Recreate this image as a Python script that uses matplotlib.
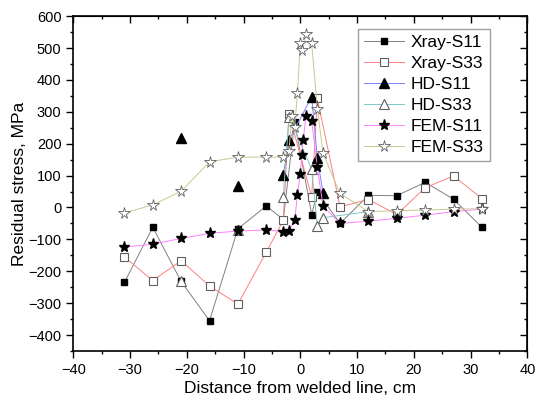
import matplotlib
matplotlib.use("Agg")
import matplotlib.pyplot as plt
import numpy as np
from matplotlib.ticker import MultipleLocator

plt.rcParams['font.family'] = ['Liberation Sans', 'DejaVu Sans']

# ---- data ----
xray_s11_x = [-31, -26, -21, -16, -11, -6, -3, -1, 2, 3, 7, 12, 17, 22, 27, 32]
xray_s11_y = [-235, -62, -232, -355, -67, 5, -38, 268, -22, 49, -50, 38, 37, 79, 26, -62]

xray_s33_x = [-31, -26, -21, -16, -11, -6, -3, -2, 2, 3, 7, 12, 17, 22, 27, 32]
xray_s33_y = [-155, -229, -167, -246, -303, -140, -40, 293, 34, 342, 2, 25, -22, 62, 99, 28]

hd_s11_x = [-21, np.nan, -11, np.nan, -3, -2, 2, 3, 4]
hd_s11_y = [218, np.nan, 67, np.nan, 103, 211, 347, 154, 46]

hd_s33_x = [-21, np.nan, -11, np.nan, -3, -2, 2, 3, 4, 12]
hd_s33_y = [-230, np.nan, -72, np.nan, 34, 285, 120, -58, -32, -13]

fem_s11_x = [-31, -26, -21, -16, -11, -6, -3, -2, -1, -0.5, 0, 0.25, 0.5, 1, 2, 3, 4, 7, 12, 17, 22, 27, 32]
fem_s11_y = [-124, -115, -97, -81, -74, -70, -76, -73, -40, 40, 105, 165, 211, 287, 272, 126, 4, -50, -43, -34, -24, -13, -5]

fem_s33_x = [-31, -26, -21, -16, -11, -6, -3, -2, -1.5, -1, -0.5, 0, 0.25, 1, 2, 3, 4, 7, 12, 17, 22, 27, 32]
fem_s33_y = [-17, 8, 51, 143, 158, 158, 158, 178, 288, 253, 360, 515, 495, 545, 515, 310, 170, 44, -13, -10, -8, -5, -4]

labels = ["Xray-S11", "Xray-S33", "HD-S11", "HD-S33", "FEM-S11", "FEM-S33"]

fig = plt.figure(figsize=(5.36, 4.03), dpi=100)
ax = fig.add_axes([0.1368, 0.129, 0.8470, 0.831])

lw = 0.7
ax.plot(xray_s11_x, xray_s11_y, color='#808080', lw=lw, marker='s', ms=5,
        mfc='black', mec='black', label=labels[0])
ax.plot(xray_s33_x, xray_s33_y, color='#ff8080', lw=lw, marker='s', ms=5.5,
        mfc='white', mec='#606060', mew=0.8, label=labels[1])
ax.plot(hd_s11_x, hd_s11_y, color='#8080ff', lw=lw, marker='^', ms=7,
        mfc='black', mec='black', label=labels[2])
ax.plot(hd_s33_x, hd_s33_y, color='#80c8c8', lw=lw, marker='^', ms=7.5,
        mfc='white', mec='#606060', mew=0.8, label=labels[3])
ax.plot(fem_s11_x, fem_s11_y, color='#ff80ff', lw=lw, marker='*', ms=8,
        mfc='black', mec='black', label=labels[4])
ax.plot(fem_s33_x, fem_s33_y, color='#c8c890', lw=lw, marker='*', ms=8.5,
        mfc='white', mec='#606060', mew=0.6, label=labels[5])

ax.set_xlim(-40, 40)
ax.set_ylim(-450, 600)
ax.xaxis.set_major_locator(MultipleLocator(10))
ax.xaxis.set_minor_locator(MultipleLocator(5))
ax.yaxis.set_major_locator(MultipleLocator(100))
ax.yaxis.set_minor_locator(MultipleLocator(50))
ax.set_yticks(np.arange(-400, 601, 100))

for sp in ax.spines.values():
    sp.set_linewidth(1.2)

ax.tick_params(axis='both', which='major', direction='out', length=5, width=1, labelsize=10.5)
ax.tick_params(axis='both', which='minor', direction='out', length=2.5, width=1)

# top / right ticks inward
axt = ax.secondary_xaxis('top')
axt.xaxis.set_major_locator(MultipleLocator(10))
axt.xaxis.set_minor_locator(MultipleLocator(5))
axt.tick_params(which='major', direction='in', length=5, width=1, labeltop=False)
axt.tick_params(which='minor', direction='in', length=2.5, width=1)
axt.set_xticklabels([])
axr = ax.secondary_yaxis('right')
axr.yaxis.set_major_locator(MultipleLocator(100))
axr.yaxis.set_minor_locator(MultipleLocator(50))
axr.tick_params(which='major', direction='in', length=5, width=1, labelright=False)
axr.tick_params(which='minor', direction='in', length=2.5, width=1)
axr.set_yticklabels([])

ax.set_xlabel("Distance from welded line, cm", fontsize=12.5, labelpad=3)
ax.set_ylabel("Residual stress, MPa", fontsize=12.5, labelpad=1)

leg = ax.legend(loc='upper left', bbox_to_anchor=(0.627, 0.961), fontsize=12.5,
                handlelength=2.3, labelspacing=0.33, borderpad=0.35, handletextpad=0.4,
                borderaxespad=0, fancybox=False, framealpha=1, edgecolor='#a0a0a0')
leg.get_frame().set_linewidth(1.0)

fig.savefig("out.png", dpi=100)
